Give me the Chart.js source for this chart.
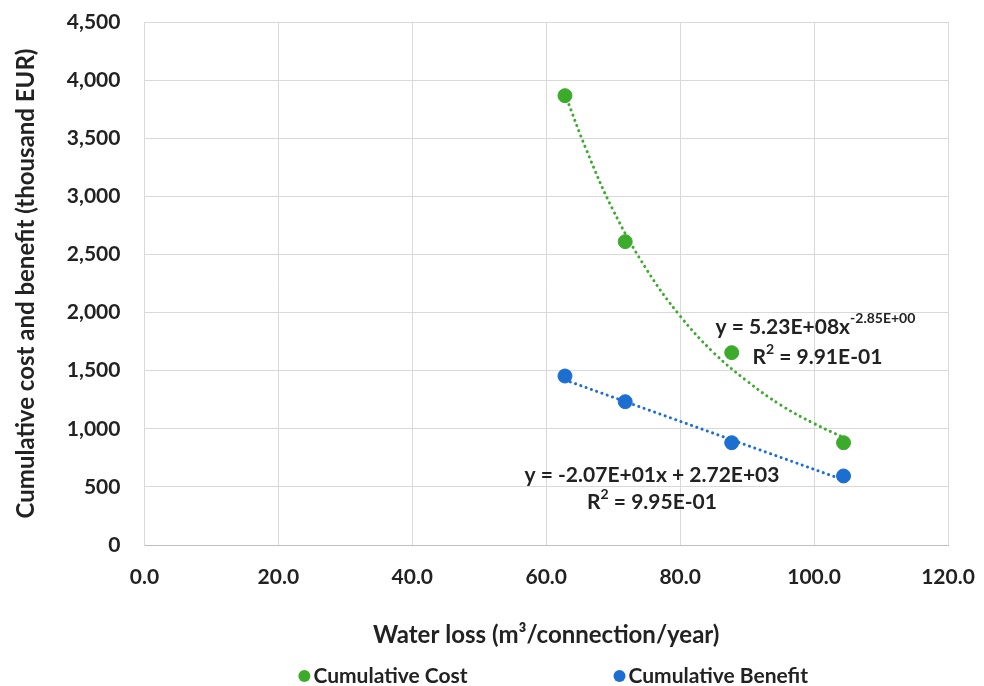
<!DOCTYPE html>
<html>
<head>
<meta charset="utf-8">
<script src="https://cdn.jsdelivr.net/npm/chart.js@4"></script>
<style>
  html, body { margin: 0; padding: 0; background: #fff; }
  #wrap { width: 984px; height: 686px; }
</style>
</head>
<body>
<div id="wrap"><canvas id="chart"></canvas></div>
<script>
// water loss (m3/connection/year)
var waterLoss = [62.8, 71.8, 87.7, 104.4];
var cumCost = [3866, 2610, 1655, 880];
var cumBenefit = [1454, 1233, 880, 594];

// trendlines
var costTrendX = [62.8, 66, 70, 75, 80, 85, 90, 95, 100, 104.4];
var costTrendY = [3880, 3400, 2880, 2370, 1970, 1655, 1410, 1205, 1045, 925];
var benefitTrendX = [62.8, 104.4];
var benefitTrendY = [1420, 560];

var xTicks = [0, 20, 40, 60, 80, 100, 120];
var yTicks = [0, 500, 1000, 1500, 2000, 2500, 3000, 3500, 4000, 4500];

var green = '#3cab2c';
var blue = '#1c6fd0';
var FONT = 'Lato, "Open Sans", sans-serif';

function pts(xs, ys) {
    return xs.map(function (x, i) { return { x: x, y: ys[i] }; });
}

// equation labels, placed in data units
var notes = [
    { x: 100.2, y: 1876, parts: [['y = 5.23E+08x', 0], ['-2.85E+00', 1]] },
    { x: 100.5, y: 1615, parts: [['R', 0], ['2', 1], [' = 9.91E-01', 0]] },
    { x: 75.8, y: 600, parts: [['y = -2.07E+01x + 2.72E+03', 0]] },
    { x: 75.8, y: 370, parts: [['R', 0], ['2', 1], [' = 9.95E-01', 0]] }
];

var notePlugin = {
    id: 'notes',
    afterDatasetsDraw: function (chart) {
        var ctx = chart.ctx;
        var xs = chart.scales.x, ys = chart.scales.y;
        ctx.save();
        ctx.textBaseline = 'middle';
        ctx.textAlign = 'left';
        ctx.fillStyle = '#222';
        notes.forEach(function (n) {
            var w = 0;
            n.parts.forEach(function (p) {
                ctx.font = 'bold ' + (p[1] ? 14 : 21) + 'px ' + FONT;
                w += ctx.measureText(p[0]).width;
            });
            var px = xs.getPixelForValue(n.x) - w / 2;
            var py = ys.getPixelForValue(n.y);
            n.parts.forEach(function (p) {
                ctx.font = 'bold ' + (p[1] ? 14 : 21) + 'px ' + FONT;
                ctx.fillText(p[0], px, p[1] ? py - 8 : py);
                px += ctx.measureText(p[0]).width;
            });
        });

        // legend, below the axis title
        var items = chart.data.datasets.filter(function (d) { return d.label.indexOf('Trend') < 0; });
        ctx.font = 'bold 21px ' + FONT;
        var gap = 146, r = 6, widths = items.map(function (d) { return 2 * r + 3 + ctx.measureText(d.label).width; });
        var total = widths.reduce(function (a, b) { return a + b; }, 0) + gap * (items.length - 1);
        var lx = (chart.chartArea.left + chart.chartArea.right) / 2 + 7 - total / 2;
        var ly = chart.chartArea.bottom + 131;
        items.forEach(function (d, i) {
            ctx.beginPath();
            ctx.arc(lx + r, ly, r, 0, Math.PI * 2);
            ctx.fillStyle = d.backgroundColor;
            ctx.fill();
            ctx.fillStyle = '#222';
            ctx.fillText(d.label, lx + 2 * r + 3, ly);
            lx += widths[i] + gap;
        });
        ctx.restore();
    }
};

var dotted = {
    showLine: true,
    fill: false,
    pointRadius: 0,
    pointHoverRadius: 0,
    borderWidth: 3,
    borderCapStyle: 'round',
    borderDash: [0.1, 5.5],
    tension: 0.4
};

new Chart(document.getElementById('chart'), {
    type: 'scatter',
    data: {
        datasets: [
            Object.assign({ label: 'costTrend', data: pts(costTrendX, costTrendY), borderColor: green }, dotted),
            Object.assign({ label: 'benefitTrend', data: pts(benefitTrendX, benefitTrendY), borderColor: blue }, dotted, { tension: 0 }),
            {
                label: 'Cumulative Cost',
                data: pts(waterLoss, cumCost),
                backgroundColor: green,
                borderColor: green,
                pointRadius: 7,
                pointHoverRadius: 7
            },
            {
                label: 'Cumulative Benefit',
                data: pts(waterLoss, cumBenefit),
                backgroundColor: blue,
                borderColor: blue,
                pointRadius: 7,
                pointHoverRadius: 7
            }
        ]
    },
    options: {
        responsive: true,
        maintainAspectRatio: false,
        animation: false,
        layout: { padding: { top: 22, right: 36, left: 8, bottom: 32 } },
        plugins: {
            tooltip: { enabled: false },
            legend: { display: false }
        },
        scales: {
            x: {
                type: 'linear',
                min: 0,
                max: 120,
                afterBuildTicks: function (axis) { axis.ticks = xTicks.map(function (v) { return { value: v }; }); },
                afterFit: function (axis) { axis.paddingRight = 0; axis.paddingLeft = 0; },
                ticks: {
                    padding: 20,
                    color: '#222',
                    font: { family: FONT, size: 21, weight: 'bold' },
                    callback: function (v) { return v.toFixed(1); }
                },
                grid: { color: '#d9d9d9', drawTicks: false },
                border: { color: '#bfbfbf' },
                title: {
                    display: true,
                    text: 'Water loss (m³/connection/year)',
                    color: '#222',
                    padding: { top: 11, bottom: 4 },
                    font: { family: FONT, size: 24, weight: 'bold' }
                }
            },
            y: {
                min: 0,
                max: 4500,
                afterBuildTicks: function (axis) { axis.ticks = yTicks.map(function (v) { return { value: v }; }); },
                afterFit: function (axis) { axis.paddingTop = 0; axis.paddingBottom = 0; },
                ticks: {
                    padding: 24,
                    color: '#222',
                    font: { family: FONT, size: 21, weight: 'bold' },
                    callback: function (v) { return v.toLocaleString('en-US'); }
                },
                grid: { color: '#d9d9d9', drawTicks: false },
                border: { color: '#d9d9d9' },
                title: {
                    display: true,
                    text: 'Cumulative cost and benefit (thousand EUR)',
                    color: '#222',
                    padding: { bottom: 2 },
                    font: { family: FONT, size: 24, weight: 'bold' }
                }
            }
        }
    },
    plugins: [notePlugin]
});
</script>
</body>
</html>
